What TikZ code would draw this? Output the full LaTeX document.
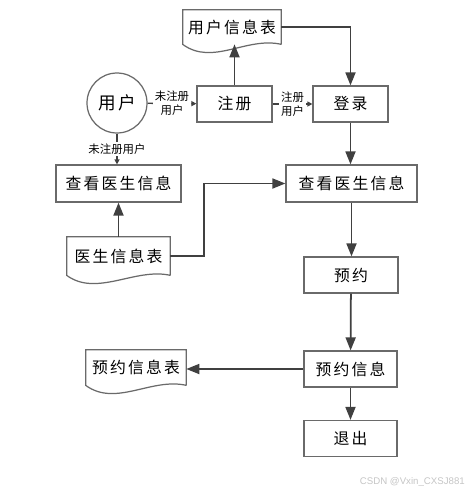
\documentclass[tikz,border=0pt]{standalone}
\usepackage{fontspec}
\newfontfamily\cjk[LetterSpace=14]{Noto Sans CJK SC}
\newfontfamily\cjksmall{Noto Sans CJK SC}
\newfontfamily\marksans{Liberation Sans}
\usetikzlibrary{arrows.meta}
\definecolor{linegray}{HTML}{404040}
\definecolor{boxgray}{HTML}{6A6A6A}

\begin{document}
\begin{tikzpicture}[x=0.02cm, y=-0.02cm, every node/.style={font=\cjk\fontsize{9}{11}\selectfont}, box/.style={rectangle, draw=boxgray, line width=0.7pt, minimum height=0.72cm}, doc/.style={inner sep=0pt, minimum width=1.96cm}, tag/.style={font=\cjksmall\fontsize{6.5}{8}\selectfont, fill=white, inner sep=1pt, align=center}, flow/.style={draw=linegray, line width=1pt, -{Triangle[length=0.26cm, width=0.2cm]}}, thin flow/.style={draw=linegray, line width=0.8pt, -{Triangle[length=0.1cm, width=0.1cm]}}]
		\path[fill=white, use as bounding box] (0,0) rectangle (475,494);
		\node[doc, minimum height=0.68cm] (userdoc) at (232,27) {用户信息表};
		\node[circle, draw=boxgray, line width=0.7pt, minimum size=1.2cm, font=\cjk\fontsize{10}{12}\selectfont] (user) at (117,103) {用户};
		\node[box, minimum width=1.5cm] (reg) at (234.5,104) {注册};
		\node[box, minimum width=1.5cm] (login) at (350.5,104) {登录};
		\node[box, minimum width=2.5cm, minimum height=0.74cm] (viewL) at (118.5,183.5) {查看医生信息};
		\node[box, minimum width=2.62cm, minimum height=0.74cm] (viewR) at (351.5,183.5) {查看医生信息};
		\node[doc, minimum width=2.06cm, minimum height=0.76cm] (doctordoc) at (118.5,256) {医生信息表};
		\node[box, minimum width=1.88cm] (book) at (351,275) {预约};
		\node[box, minimum width=1.86cm] (bookinfo) at (350.5,369) {预约信息};
		\node[doc, minimum width=2cm, minimum height=0.7cm] (bookdoc) at (136,367.5) {预约信息表};
		\node[box, minimum width=1.86cm] (quit) at (350.5,438.5) {退出};
		\node[font=\marksans\fontsize{5.5}{7}\selectfont, text=gray!45, anchor=east] (mark) at (471,482) {CSDN @Vxin\_CXSJ881};
		% document outlines with wavy bottom
		\foreach \d in {userdoc, doctordoc, bookdoc}
			\draw[boxgray, line width=0.7pt] (\d.south east) -- (\d.north east) -- (\d.north west) -- (\d.south west) .. controls +(30,22) and +(-35,-8) .. (\d.south east);
		\draw[thin flow] (user) -- node[tag] {未注册\\用户} (reg);
		\draw[thin flow] (reg) -- node[tag] {注册\\用户} (login);
		\draw[thin flow] (user.south) -- node[tag] {未注册用户} (user.south |- viewL.north);
		\draw[flow] (reg.north) -- (reg.north |- userdoc.south);
		\draw[flow] (userdoc.east) -| (login.north);
		\draw[flow] (login.south) -- (login.south |- viewR.north);
		\draw[flow] (doctordoc.north) -- (viewL.south);
		\draw[flow] (doctordoc.east) -- ++(34,0) |- (viewR.west);
		\draw[flow] (viewR.south) -- (viewR.south |- book.north);
		\draw[flow] (book) -- (bookinfo);
		\draw[flow] (bookinfo.west) -- (bookinfo.west -| bookdoc.east);
		\draw[flow] (bookinfo) -- (quit);
	\end{tikzpicture}
\end{document}
